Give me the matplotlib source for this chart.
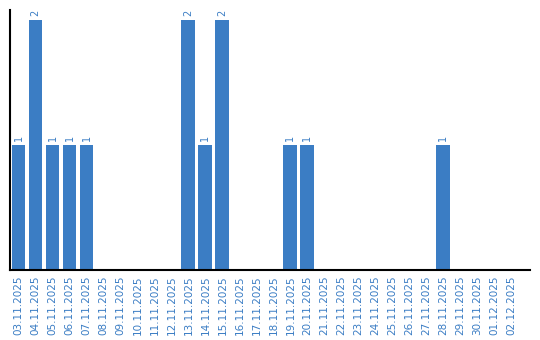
import matplotlib
matplotlib.use("Agg")
import matplotlib.pyplot as plt

dates = ["03.11.2025", "04.11.2025", "05.11.2025", "06.11.2025", "07.11.2025",
         "08.11.2025", "09.11.2025", "10.11.2025", "11.11.2025", "12.11.2025",
         "13.11.2025", "14.11.2025", "15.11.2025", "16.11.2025", "17.11.2025",
         "18.11.2025", "19.11.2025", "20.11.2025", "21.11.2025", "22.11.2025",
         "23.11.2025", "24.11.2025", "25.11.2025", "26.11.2025", "27.11.2025",
         "28.11.2025", "29.11.2025", "30.11.2025", "01.12.2025", "02.12.2025"]
counts = [1, 2, 1, 1, 1, 0, 0, 0, 0, 0,
          2, 1, 2, 0, 0, 0, 1, 1, 0, 0,
          0, 0, 0, 0, 0, 1, 0, 0, 0, 0]

blue = "#3b7dc4"

fig = plt.figure(figsize=(5.4, 3.4), dpi=100)
ax = fig.add_axes([10/540, 70/340, 520/540, 260/340])

x = range(len(dates))
ax.bar(x, counts, width=0.82, color=blue)
for i, c in zip(x, counts):
    if c > 0:
        ax.text(i, c + 0.03, str(c), rotation=90, ha="center", va="bottom",
                color=blue, fontsize=7)

ax.set_xlim(-0.5, len(dates) + 0.1)
ax.set_ylim(0, 2.08)
ax.set_xticks(list(x))
ax.set_xticklabels(dates, rotation=90, color=blue, fontsize=7.5)
ax.tick_params(axis="x", length=0, pad=4)
ax.set_yticks([])
ax.spines["top"].set_visible(False)
ax.spines["right"].set_visible(False)
ax.spines["left"].set_linewidth(1.5)
ax.spines["bottom"].set_linewidth(1.5)

fig.savefig("out.png", dpi=100)
